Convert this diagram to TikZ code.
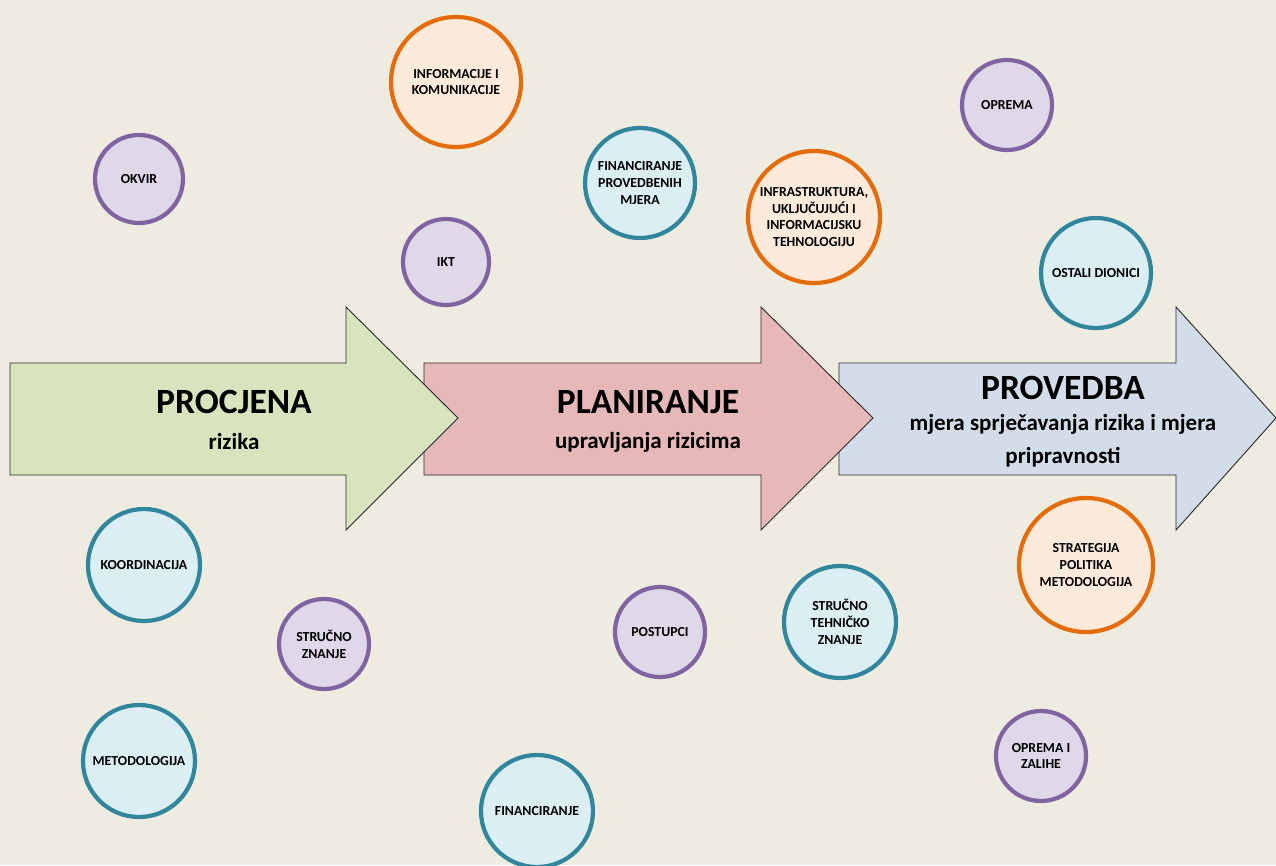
\documentclass[tikz,border=0pt]{standalone}
\usepackage{fontspec}
\setmainfont{Carlito}
\definecolor{bg}{RGB}{238,236,225}
\definecolor{grn}{RGB}{215,228,189}
\definecolor{pnk}{RGB}{230,185,184}
\definecolor{blu}{RGB}{211,221,233}
\definecolor{purS}{RGB}{128,100,162}
\definecolor{purF}{RGB}{223,216,232}
\definecolor{tealS}{RGB}{49,133,156}
\definecolor{tealF}{RGB}{219,238,244}
\definecolor{orS}{RGB}{228,108,10}
\definecolor{orF}{RGB}{253,234,218}
\definecolor{edge}{RGB}{40,40,40}
\tikzset{
  bubble/.style={circle, line width=4.2pt, align=center, inner sep=0pt,
    font=\fontsize{13.8}{16.8}\selectfont\bfseries},
  purb/.style={bubble, draw=purS, fill=purF},
  tealb/.style={bubble, draw=tealS, fill=tealF},
  orb/.style={bubble, draw=orS, fill=orF},
  bigarrow/.style={draw=edge, line width=0.9pt, line join=miter},
  title/.style={font=\fontsize{35.5}{38}\selectfont\bfseries},
  sub/.style={font=\fontsize{23}{33}\selectfont\bfseries, align=center},
}
\begin{document}
\begin{tikzpicture}[x=1pt,y=-1pt]
\useasboundingbox (0,0) rectangle (1276,865);
\fill[bg] (0,0) rectangle (1276,865);
% arrows (back to front)
\draw[bigarrow, fill=blu] (839,363) -- (1176,363) -- (1176,307) -- (1276,418) -- (1176,530) -- (1176,475) -- (839,475) -- cycle;
\draw[bigarrow, fill=pnk] (424,363) -- (761,363) -- (761,307) -- (873,418) -- (761,530) -- (761,475) -- (424,475) -- cycle;
\draw[bigarrow, fill=grn] (10,363) -- (346,363) -- (346,307) -- (458,418) -- (346,530) -- (346,475) -- (10,475) -- cycle;
\node[title] (procjena) at (234,402) {PROCJENA};
\node[sub] (rizika) at (234,442) {rizika};
\node[title] (planiranje) at (648,402) {PLANIRANJE};
\node[sub] (upravljanja) at (648,442) {upravljanja rizicima};
\node[title] (provedba) at (1063,388) {PROVEDBA};
\node[sub] (mjera) at (1063,441) {mjera sprječavanja rizika i mjera\\pripravnosti};
% bubbles
\node[purb, minimum size=88pt] (okvir) at (139,179) {OKVIR};
\node[orb, minimum size=130pt] (infokom) at (456,82) {INFORMACIJE I\\KOMUNIKACIJE};
\node[purb, minimum size=86pt] (ikt) at (446,262) {IKT};
\node[tealb, minimum size=110pt] (finprov) at (640,183) {FINANCIRANJE\\PROVEDBENIH\\MJERA};
\node[orb, minimum size=132pt] (infra) at (814,217) {INFRASTRUKTURA,\\UKLJUČUJUĆI I\\INFORMACIJSKU\\TEHNOLOGIJU};
\node[purb, minimum size=90pt] (oprema) at (1007,105) {OPREMA};
\node[tealb, minimum size=110pt] (ostali) at (1096,273) {OSTALI DIONICI};
\node[tealb, minimum size=112pt] (koord) at (144,565) {KOORDINACIJA};
\node[purb, minimum size=90pt] (strucno) at (324,644) {STRUČNO\\ZNANJE};
\node[tealb, minimum size=112pt] (metod) at (139,761) {METODOLOGIJA};
\node[purb, minimum size=90pt] (postupci) at (660,632) {POSTUPCI};
\node[tealb, minimum size=112pt] (stehn) at (840,622) {STRUČNO\\TEHNIČKO\\ZNANJE};
\node[tealb, minimum size=112pt] (financ) at (537,811) {FINANCIRANJE};
\node[orb, minimum size=134pt] (strat) at (1086,565) {STRATEGIJA\\POLITIKA\\METODOLOGIJA};
\node[purb, minimum size=90pt] (oprzal) at (1041,756) {OPREMA I\\ZALIHE};
\end{tikzpicture}
\end{document}
